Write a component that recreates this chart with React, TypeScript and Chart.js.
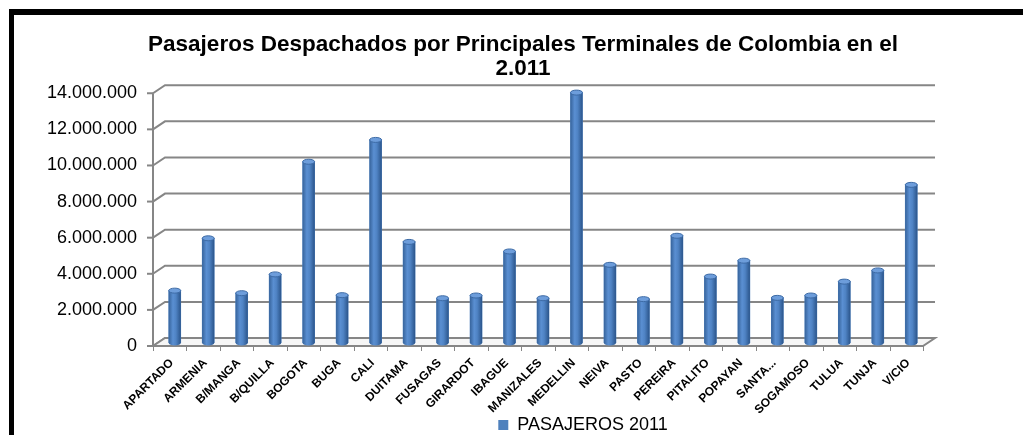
import React, { useEffect, useRef } from "react";
import { Chart, registerables } from "chart.js";

Chart.register(...registerables);

const categories = [
  "APARTADO", "ARMENIA", "B/MANGA", "B/QUILLA", "BOGOTA", "BUGA", "CALI", "DUITAMA",
  "FUSAGAS", "GIRARDOT", "IBAGUE", "MANIZALES", "MEDELLIN", "NEIVA", "PASTO", "PEREIRA",
  "PITALITO", "POPAYAN", "SANTA...", "SOGAMOSO", "TULUA", "TUNJA", "V/CIO",
];
const passengers2011 = [
  2900000, 5800000, 2760000, 3800000, 10040000, 2650000, 11250000, 5600000,
  2480000, 2630000, 5070000, 2480000, 13870000, 4330000, 2430000, 5940000,
  3680000, 4560000, 2500000, 2630000, 3400000, 4020000, 8760000,
];
const seriesLabel = "PASAJEROS 2011";
const titleLines = ["Pasajeros Despachados por Principales Terminales de Colombia en el", "2.011"];
const yMin = 0;
const yMax = 14000000;
const yStep = 2000000;

const FONT = "'Liberation Sans', Arial, sans-serif";
const FDX = -5, FDY = 3, BDX = 7, BDY = -5;
const CANVAS_W = 1023;
const CANVAS_H = 460;

const fmt = (v: number) => String(Math.round(v)).replace(/\B(?=(\d{3})+(?!\d))/g, ".");

const wallPlugin = {
  id: "wall3d",
  afterLayout(chart: any) {
    const lg = chart.legend;
    if (lg) {
      const dx = 583 - (lg.left + lg.right) / 2;
      const dy = -16;
      lg.left += dx; lg.right += dx; lg.top += dy; lg.bottom += dy;
    }
    const tb = chart.titleBlock;
    if (tb) {
      const dx = 523 - (tb.left + tb.right) / 2;
      tb.left += dx; tb.right += dx;
    }
  },
  beforeDatasetsDraw(chart: any) {
    const { ctx, chartArea: a, scales } = chart;
    const y = scales.y;
    const x = scales.x;
    ctx.save();
    ctx.strokeStyle = "#868686";
    ctx.lineWidth = 2;
    ctx.lineCap = "butt";
    for (const t of y.ticks) {
      const py = y.getPixelForValue(t.value);
      ctx.beginPath();
      ctx.moveTo(a.left + FDX, py + FDY);
      ctx.lineTo(a.left + BDX, py + BDY);
      ctx.lineTo(a.right + BDX, py + BDY);
      ctx.stroke();
      ctx.beginPath();
      ctx.moveTo(a.left + FDX - 6, py + FDY);
      ctx.lineTo(a.left + FDX, py + FDY);
      ctx.stroke();
    }
    const y0 = y.getPixelForValue(yMin);
    const yT = y.getPixelForValue(yMax);
    ctx.beginPath();
    ctx.moveTo(a.left + FDX, y0 + FDY);
    ctx.lineTo(a.left + FDX, yT + FDY);
    ctx.stroke();
    // floor
    ctx.beginPath();
    ctx.moveTo(a.left + FDX, y0 + FDY);
    ctx.lineTo(a.right + FDX, y0 + FDY);
    ctx.lineTo(a.right + BDX, y0 + BDY);
    ctx.lineTo(a.left + BDX, y0 + BDY);
    ctx.closePath();
    ctx.fillStyle = "#f6f6f6";
    ctx.fill();
    ctx.stroke();
    // category tick marks on the front edge
    ctx.lineWidth = 1;
    const n = x.ticks.length;
    const w = (a.right - a.left) / n;
    for (let i = 0; i <= n; i++) {
      const xb = Math.round(a.left + i * w + FDX) + 0.5;
      ctx.beginPath();
      ctx.moveTo(xb, y0 + FDY);
      ctx.lineTo(xb, y0 + FDY + 5);
      ctx.stroke();
    }
    ctx.restore();
  },
  afterDatasetsDraw(chart: any) {
    const { ctx } = chart;
    const meta = chart.getDatasetMeta(0);
    ctx.save();
    for (const el of meta.data) {
      const { x, y, base, width } = el.getProps(["x", "y", "base", "width"], true);
      const l = x - width / 2;
      const g = ctx.createLinearGradient(l, 0, l + width, 0);
      g.addColorStop(0, "#37649c");
      g.addColorStop(0.35, "#5a8fd2");
      g.addColorStop(0.6, "#4f83c4");
      g.addColorStop(1, "#2b558b");
      ctx.fillStyle = g;
      ctx.fillRect(l, y, width, base - y);
      ctx.beginPath();
      ctx.ellipse(x, base, width / 2, 2.5, 0, 0, Math.PI);
      ctx.fill();
      ctx.beginPath();
      ctx.ellipse(x, y, width / 2, 2.5, 0, 0, Math.PI * 2);
      ctx.fillStyle = "#6d9ddb";
      ctx.fill();
      ctx.strokeStyle = "#3c6aa5";
      ctx.lineWidth = 1;
      ctx.stroke();
    }
    ctx.restore();
  },
};

export default function App() {
  const ref = useRef<HTMLCanvasElement | null>(null);
  useEffect(() => {
    if (!ref.current) return;
    const chart = new Chart(ref.current, {
      type: "bar",
      data: {
        labels: categories,
        datasets: [
          {
            label: seriesLabel,
            data: passengers2011,
            backgroundColor: "#4f81bd",
            borderWidth: 0,
            barThickness: 12,
          },
        ],
      },
      options: {
        responsive: false,
        animation: false,
        devicePixelRatio: 1,
        layout: { padding: { left: 0, right: 95, top: 0, bottom: 0 } },
        plugins: {
          title: {
            display: true,
            text: titleLines,
            color: "#000",
            font: { family: FONT, size: 22.5, weight: "bold", lineHeight: 1.05 },
            padding: { top: 33, bottom: 10 },
          },
          legend: {
            display: true,
            position: "bottom",
            labels: {
              color: "#000",
              font: { family: FONT, size: 18 },
              boxWidth: 10,
              boxHeight: 10,
              padding: 4,
            },
          },
          tooltip: { enabled: false },
        },
        scales: {
          x: {
            grid: { display: false, drawTicks: false },
            border: { display: false },
            ticks: {
              color: "#000",
              font: { family: FONT, size: 12, weight: "bold" },
              minRotation: 45,
              maxRotation: 45,
              autoSkip: false,
              padding: 13,
              labelOffset: -3,
            },
            afterFit: (s: any) => { s.height = 85; },
          },
          y: {
            min: yMin,
            max: yMax,
            grid: { display: false, drawTicks: false },
            border: { display: false },
            ticks: {
              stepSize: yStep,
              color: "#000",
              font: { family: FONT, size: 18 },
              padding: 21,
              labelOffset: 3,
              callback: (v: any) => fmt(Number(v)),
            },
            afterFit: (s: any) => { s.width = 158; },
          },
        },
      },
      plugins: [wallPlugin],
    });
    return () => chart.destroy();
  }, []);

  return (
    <div style={{ position: "fixed", left: 0, top: 0, width: 1023, height: 435, overflow: "hidden", background: "#fff" }}>
      <div
        style={{
          position: "absolute", left: 9, top: 9, width: 1100, height: 500,
          borderTop: "6px solid #000", borderLeft: "5px solid #000",
        }}
      />
      <canvas ref={ref} width={CANVAS_W} height={CANVAS_H} style={{ position: "absolute", left: 0, top: 0 }} />
    </div>
  );
}
